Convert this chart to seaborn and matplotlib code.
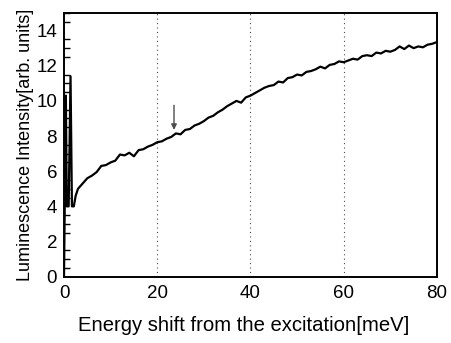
import matplotlib
matplotlib.use("Agg")
import matplotlib.pyplot as plt
from matplotlib.ticker import MultipleLocator
import seaborn as sns
import numpy as np
import pandas as pd

# spectrum (energy shift in meV, intensity in arb. units)
energy = [0.0, 0.2, 0.4, 0.6, 1.0, 1.4, 1.7, 2.1, 2.5, 3, 4, 5, 6, 7, 8, 9, 10,
          11, 12, 13, 14, 15, 16, 17, 18, 19, 20, 21, 22, 23, 24, 25, 26, 27, 28,
          29, 30, 31, 32, 33, 34, 35, 36, 37, 38, 39, 40, 41, 42, 43, 44, 45, 46,
          47, 48, 49, 50, 51, 52, 53, 54, 55, 56, 57, 58, 59, 60, 61, 62, 63, 64,
          65, 66, 67, 68, 69, 70, 71, 72, 73, 74, 75, 76, 77, 78, 79, 80]
intensity = [0.0, 5.0, 10.3, 4.0, 4.0, 11.4, 4.0, 4.0, 4.6, 5.0, 5.3, 5.6, 5.75,
             5.95, 6.3, 6.35, 6.5, 6.6, 6.95, 6.9, 7.05, 6.85, 7.2, 7.25, 7.4,
             7.5, 7.65, 7.7, 7.85, 7.95, 8.15, 8.1, 8.35, 8.4, 8.6, 8.7, 8.85,
             9.05, 9.15, 9.35, 9.5, 9.7, 9.85, 10.0, 9.9, 10.2, 10.3, 10.45, 10.6,
             10.75, 10.85, 10.9, 11.1, 11.05, 11.3, 11.35, 11.5, 11.45, 11.65,
             11.7, 11.8, 11.95, 11.85, 12.05, 12.1, 12.25, 12.2, 12.3, 12.4,
             12.35, 12.55, 12.6, 12.55, 12.75, 12.7, 12.85, 12.8, 12.9, 13.1,
             12.95, 13.15, 13.0, 13.1, 13.05, 13.2, 13.25, 13.35]
grid_x = [20, 40, 60]
arrow_x = 23.6
arrow_tip = 8.35
arrow_tail = 9.75

df = pd.DataFrame({"energy": energy, "intensity": intensity})

sns.set_style("white")
plt.rcParams["font.family"] = ["Liberation Sans", "DejaVu Sans"]
plt.rcParams["text.color"] = "black"
plt.rcParams["axes.labelcolor"] = "black"
plt.rcParams["xtick.color"] = "black"
plt.rcParams["ytick.color"] = "black"

fig = plt.figure(figsize=(4.52, 3.43), dpi=100)
ax = fig.add_axes([0.1416, 0.1934, 0.825, 0.7686])

for g in grid_x:
    ax.axvline(g, color="0.3", lw=0.8, ls=(0, (1, 3)), zorder=0)

sns.lineplot(data=df, x="energy", y="intensity", ax=ax, color="black",
             lw=1.6, sort=False, estimator=None)

ax.annotate("", xy=(arrow_x, arrow_tip), xytext=(arrow_x, arrow_tail),
            arrowprops=dict(arrowstyle="-|>", color="0.3", lw=1.0,
                            mutation_scale=8, shrinkA=0, shrinkB=0))

ax.set_xlim(0, 80)
ax.set_ylim(0, 15)
ax.xaxis.set_major_locator(MultipleLocator(20))
ax.yaxis.set_major_locator(MultipleLocator(2))
ax.yaxis.set_minor_locator(MultipleLocator(0.5))
ax.tick_params(axis="both", which="both", direction="in", labelsize=13.5,
               color="black", labelcolor="black")
ax.tick_params(axis="x", which="major", length=10, width=1.3, pad=6)
ax.tick_params(axis="y", which="major", length=9, width=1.3, pad=5)
ax.tick_params(axis="y", which="minor", length=4.5, width=1.0, left=True)
for s in ax.spines.values():
    s.set_color("black")
    s.set_linewidth(1.4)

ax.set_xlabel("Energy shift from the excitation[meV]", fontsize=14.6, labelpad=10)
ax.xaxis.label.set_x(0.482)
ax.set_ylabel("Luminescence Intensity[arb. units]", fontsize=13)
ax.yaxis.set_label_coords(-0.08, 0.5)

fig.savefig("out.png", dpi=100)
